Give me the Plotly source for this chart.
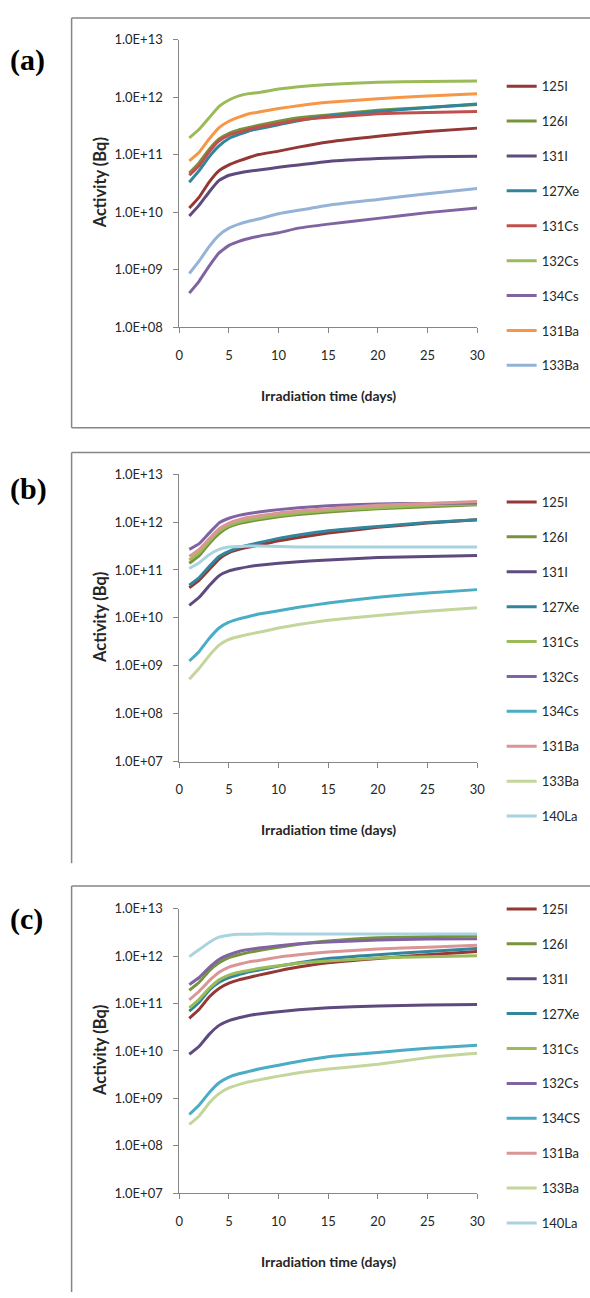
import numpy as np
import plotly.graph_objects as go

# Irradiation time (days) at which activities were read
days = [1, 2, 3, 4, 5, 6, 7, 8, 10, 12, 15, 20, 25, 30]

# ---- Panel (a): log10 of activity (Bq) ----
a_names = ["125I", "126I", "131I", "127Xe", "131Cs", "132Cs", "134Cs", "131Ba", "133Ba"]
a_colors = ["#953735", "#77933C", "#5F4A7E", "#31859C", "#C0504D", "#9BBB59", "#8064A2", "#F79646", "#95B3D7"]
a_125I = [10.07, 10.26, 10.52, 10.72, 10.82, 10.89, 10.95, 11.00, 11.06, 11.13, 11.22, 11.32, 11.40, 11.46]
a_126I = [10.68, 10.86, 11.09, 11.27, 11.37, 11.43, 11.47, 11.51, 11.58, 11.64, 11.69, 11.77, 11.82, 11.87]
a_131I = [9.93, 10.12, 10.35, 10.55, 10.64, 10.68, 10.71, 10.73, 10.78, 10.82, 10.88, 10.93, 10.96, 10.97]
a_127Xe = [10.52, 10.72, 10.96, 11.15, 11.28, 11.35, 11.41, 11.45, 11.52, 11.59, 11.67, 11.75, 11.82, 11.88]
a_131Cs = [10.64, 10.81, 11.05, 11.24, 11.34, 11.39, 11.44, 11.48, 11.54, 11.60, 11.65, 11.71, 11.73, 11.75]
a_132Cs = [11.29, 11.44, 11.64, 11.84, 11.95, 12.02, 12.06, 12.08, 12.14, 12.18, 12.22, 12.26, 12.27, 12.28]
a_134Cs = [8.59, 8.80, 9.06, 9.29, 9.42, 9.49, 9.54, 9.58, 9.64, 9.72, 9.79, 9.89, 9.99, 10.07]
a_131Ba = [10.89, 11.04, 11.27, 11.47, 11.58, 11.65, 11.71, 11.74, 11.80, 11.85, 11.91, 11.97, 12.02, 12.06]
a_133Ba = [8.93, 9.15, 9.40, 9.60, 9.72, 9.79, 9.84, 9.88, 9.97, 10.03, 10.12, 10.22, 10.32, 10.41]
a_series = [a_125I, a_126I, a_131I, a_127Xe, a_131Cs, a_132Cs, a_134Cs, a_131Ba, a_133Ba]

# ---- Panel (b) ----
b_names = ["125I", "126I", "131I", "127Xe", "131Cs", "132Cs", "134Cs", "131Ba", "133Ba", "140La"]
b_colors = ["#953735", "#77933C", "#5F4A7E", "#31859C", "#9BBB59", "#8064A2", "#4BACC6", "#D99694", "#C3D69B", "#A9D3DF"]
b_125I = [10.63, 10.79, 11.01, 11.23, 11.36, 11.43, 11.48, 11.52, 11.61, 11.68, 11.77, 11.89, 11.98, 12.05]
b_126I = [11.14, 11.30, 11.55, 11.76, 11.90, 11.97, 12.01, 12.05, 12.11, 12.16, 12.21, 12.28, 12.32, 12.36]
b_131I = [10.26, 10.43, 10.67, 10.88, 10.98, 11.03, 11.07, 11.10, 11.14, 11.17, 11.21, 11.26, 11.28, 11.30]
b_127Xe = [10.68, 10.84, 11.07, 11.28, 11.39, 11.47, 11.52, 11.57, 11.66, 11.73, 11.82, 11.91, 11.99, 12.05]
b_131Cs = [11.21, 11.36, 11.60, 11.81, 11.93, 12.00, 12.05, 12.08, 12.14, 12.19, 12.24, 12.30, 12.35, 12.38]
b_132Cs = [11.43, 11.55, 11.77, 11.98, 12.08, 12.14, 12.18, 12.21, 12.26, 12.30, 12.34, 12.38, 12.39, 12.40]
b_134Cs = [9.10, 9.30, 9.57, 9.79, 9.91, 9.98, 10.03, 10.08, 10.15, 10.22, 10.31, 10.43, 10.52, 10.59]
b_131Ba = [11.28, 11.43, 11.65, 11.86, 11.98, 12.05, 12.10, 12.13, 12.19, 12.23, 12.28, 12.35, 12.39, 12.43]
b_133Ba = [8.72, 8.95, 9.21, 9.43, 9.55, 9.61, 9.66, 9.70, 9.79, 9.86, 9.95, 10.05, 10.14, 10.21]
b_140La = [11.03, 11.15, 11.32, 11.43, 11.48, 11.49, 11.50, 11.50, 11.49, 11.48, 11.48, 11.48, 11.48, 11.48]
b_series = [b_125I, b_126I, b_131I, b_127Xe, b_131Cs, b_132Cs, b_134Cs, b_131Ba, b_133Ba, b_140La]

# ---- Panel (c) ----
c_names = ["125I", "126I", "131I", "127Xe", "131Cs", "132Cs", "134CS", "131Ba", "133Ba", "140La"]
c_colors = b_colors
c_125I = [10.69, 10.88, 11.14, 11.32, 11.43, 11.50, 11.55, 11.60, 11.69, 11.77, 11.86, 11.95, 12.03, 12.10]
c_126I = [11.28, 11.45, 11.69, 11.86, 11.97, 12.03, 12.08, 12.12, 12.19, 12.25, 12.32, 12.39, 12.41, 12.43]
c_131I = [9.93, 10.10, 10.35, 10.54, 10.64, 10.70, 10.75, 10.78, 10.83, 10.87, 10.91, 10.95, 10.97, 10.98]
c_127Xe = [10.84, 11.03, 11.28, 11.45, 11.55, 11.61, 11.67, 11.71, 11.79, 11.86, 11.95, 12.03, 12.10, 12.16]
c_131Cs = [10.91, 11.09, 11.32, 11.50, 11.60, 11.66, 11.70, 11.74, 11.80, 11.85, 11.90, 11.96, 11.99, 12.01]
c_132Cs = [11.40, 11.55, 11.76, 11.93, 12.03, 12.10, 12.14, 12.17, 12.22, 12.26, 12.30, 12.34, 12.36, 12.37]
c_134Cs = [8.66, 8.86, 9.12, 9.33, 9.45, 9.52, 9.57, 9.62, 9.70, 9.78, 9.88, 9.97, 10.06, 10.12]
c_131Ba = [11.08, 11.26, 11.48, 11.66, 11.77, 11.83, 11.88, 11.91, 11.98, 12.03, 12.09, 12.15, 12.19, 12.23]
c_133Ba = [8.45, 8.63, 8.90, 9.10, 9.22, 9.29, 9.35, 9.39, 9.47, 9.54, 9.62, 9.72, 9.86, 9.95]
c_140La = [11.99, 12.14, 12.29, 12.40, 12.44, 12.46, 12.46, 12.47, 12.47, 12.47, 12.47, 12.47, 12.47, 12.47]
c_series = [c_125I, c_126I, c_131I, c_127Xe, c_131Cs, c_132Cs, c_134Cs, c_131Ba, c_133Ba, c_140La]

x_ticks = [0, 5, 10, 15, 20, 25, 30]
y_ticks_a = [1e8, 1e9, 1e10, 1e11, 1e12, 1e13]
y_ticks_bc = [1e7, 1e8, 1e9, 1e10, 1e11, 1e12, 1e13]


def sci_label(v):
    return "1.0E+%02d" % int(round(np.log10(v)))


W, H = 590, 1298
AXIS_GREY = "#868686"
TEXT = "#262626"
TICK_FONT = dict(family="Lato", size=13, color=TEXT)


def px_x(p):
    return p / W


def px_y(p):
    return 1 - p / H


# plot-area placement of the three panels (pixel rows of top/bottom of axes)
# frame = (top row, bottom row, draw bottom edge?)
panels = [
    dict(key="", names=a_names, colors=a_colors, series=a_series, yt=y_ticks_a, rng=[8, 13],
         top=32, bottom=323, legend_top=64, label="(a)", label_y=53, frame=(10, 425, True)),
    dict(key="2", names=b_names, colors=b_colors, series=b_series, yt=y_ticks_bc, rng=[7, 13],
         top=472, bottom=763, legend_top=485, label="(b)", label_y=487, frame=(450, 866, False)),
    dict(key="3", names=c_names, colors=c_colors, series=c_series, yt=y_ticks_bc, rng=[7, 13],
         top=912, bottom=1200, legend_top=897, label="(c)", label_y=922, frame=(889, 1300, False)),
]

fig = go.Figure()
layout = dict(
    width=W, height=H, margin=dict(l=0, r=0, t=0, b=0),
    paper_bgcolor="white", plot_bgcolor="white", showlegend=True,
)
annotations = []
shapes = []


def frame_line(x0, y0, x1, y1):
    return dict(type="line", xref="paper", yref="paper",
                x0=px_x(x0), x1=px_x(x1), y0=px_y(y0), y1=px_y(y1),
                line=dict(color=AXIS_GREY, width=1.5))


for i, p in enumerate(panels):
    k = p["key"]
    leg = "legend" + k
    for j, (name, col, vals) in enumerate(zip(p["names"], p["colors"], p["series"])):
        fig.add_trace(go.Scatter(
            x=days, y=np.power(10.0, vals), mode="lines", name=name,
            line=dict(color=col, width=3, shape="spline", smoothing=0.4),
            xaxis="x" + k, yaxis="y" + k, legend=leg, legendgroup=f"{i}-{j}",
        ))
    layout["xaxis" + k] = dict(
        domain=[px_x(179), px_x(483)], anchor="y" + k, range=[0, 30],
        tickvals=x_ticks, ticks="outside", ticklen=5, tickcolor=AXIS_GREY,
        showline=True, linecolor=AXIS_GREY, linewidth=1, showgrid=False, zeroline=False,
        tickfont=TICK_FONT, ticklabelstandoff=11,
    )
    layout["yaxis" + k] = dict(
        domain=[px_y(p["bottom"]), px_y(p["top"])], anchor="x" + k, type="log", range=p["rng"],
        tickvals=p["yt"], ticktext=[sci_label(v) for v in p["yt"]],
        ticks="outside", ticklen=5, tickcolor=AXIS_GREY,
        showline=True, linecolor=AXIS_GREY, linewidth=1, showgrid=False, zeroline=False,
        tickfont=TICK_FONT, ticklabelstandoff=8,
    )
    layout[leg] = dict(
        x=px_x(508), y=px_y(p["legend_top"]), xanchor="left", yanchor="top",
        font=dict(family="Lato", size=13, color=TEXT), bgcolor="rgba(0,0,0,0)",
        tracegroupgap=15, itemwidth=30, borderwidth=0,
    )
    mid = (p["top"] + p["bottom"]) / 2
    annotations.append(dict(
        text="<b>Activity (Bq)</b>", x=px_x(98), y=px_y(mid), xref="paper", yref="paper",
        xanchor="center", yanchor="middle", textangle=-90, showarrow=False,
        font=dict(family="Lato", size=16.5, color=TEXT),
    ))
    annotations.append(dict(
        text="<b>Irradiation time (days)</b>", x=px_x(331), y=px_y(p["bottom"] + 69),
        xref="paper", yref="paper", xanchor="center", yanchor="middle", showarrow=False,
        font=dict(family="Lato", size=14, color=TEXT),
    ))
    annotations.append(dict(
        text="<b>%s</b>" % p["label"], x=px_x(4), y=px_y(p["label_y"]), xref="paper", yref="paper",
        xanchor="left", yanchor="middle", showarrow=False,
        font=dict(family="Liberation Serif", size=30, color="black"),
    ))
    ft, fb, closed = p["frame"]
    shapes.append(frame_line(69, ft, 600, ft))
    shapes.append(frame_line(69, ft, 69, fb))
    if closed:
        shapes.append(frame_line(69, fb, 600, fb))

layout["annotations"] = annotations
layout["shapes"] = shapes
fig.update_layout(**layout)
fig.write_html("out.html")
